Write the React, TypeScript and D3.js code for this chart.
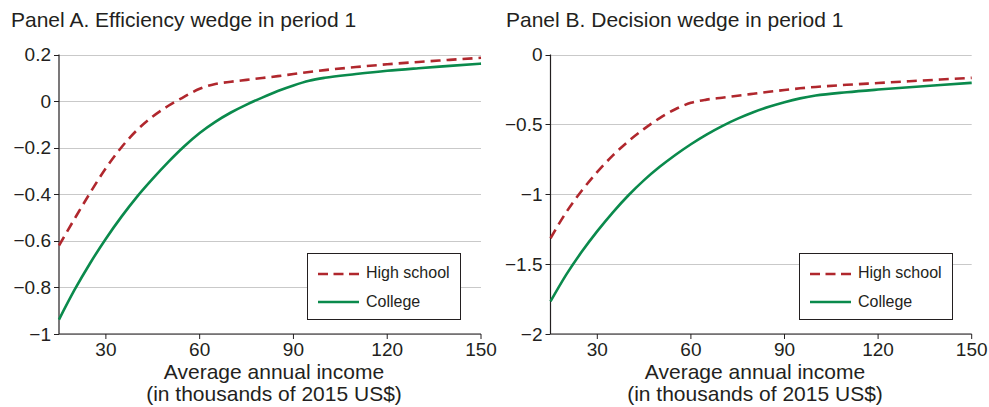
import React from "react";
import * as d3 from "d3";

const incomes = [15, 20, 25, 30, 35, 40, 45, 50, 55, 60, 65, 70, 75, 80, 85, 90, 95, 100, 110, 120, 130, 140, 150];

const effHighSchool = [-0.62, -0.505, -0.393, -0.288, -0.198, -0.124, -0.066, -0.02, 0.018, 0.053, 0.073, 0.083, 0.091, 0.099, 0.107, 0.116, 0.125, 0.133, 0.146, 0.158, 0.168, 0.177, 0.186];
const effCollege = [-0.938, -0.81, -0.695, -0.591, -0.496, -0.41, -0.333, -0.261, -0.195, -0.137, -0.089, -0.049, -0.015, 0.015, 0.043, 0.067, 0.087, 0.1, 0.116, 0.13, 0.141, 0.151, 0.161];

const decHighSchool = [-1.315, -1.13, -0.975, -0.84, -0.722, -0.62, -0.532, -0.455, -0.392, -0.346, -0.323, -0.309, -0.295, -0.281, -0.267, -0.254, -0.242, -0.232, -0.217, -0.204, -0.191, -0.179, -0.167];
const decCollege = [-1.767, -1.577, -1.412, -1.264, -1.129, -1.007, -0.899, -0.804, -0.719, -0.642, -0.573, -0.512, -0.459, -0.413, -0.374, -0.341, -0.314, -0.294, -0.27, -0.251, -0.234, -0.218, -0.203];

const xTicks = [30, 60, 90, 120, 150];
const effTicks = [0.2, 0, -0.2, -0.4, -0.6, -0.8, -1];
const decTicks = [0, -0.5, -1, -1.5, -2];

const seriesNames = ["High school", "College"];
const RED = "#b0272d";
const GREEN = "#0a8a4c";
const INK = "#231f20";
const FONT = "'Liberation Sans', Arial, Helvetica, sans-serif";

const fmt = (v: number) => (v < 0 ? "\u2212" + String(Math.abs(v)) : String(v));

type PanelProps = {
  title: string;
  titleX: number;
  x0: number;
  x1: number;
  yDomain: [number, number];
  yTicks: number[];
  hs: number[];
  col: number[];
  axisCenter: number;
  legendX: number;
};

function Panel(p: PanelProps) {
  const x = d3.scaleLinear().domain([15, 150]).range([p.x0, p.x1]);
  const y = d3.scaleLinear().domain(p.yDomain).range([334, 54.5]);
  const line = d3
    .line<number>()
    .x((_, i) => x(incomes[i]))
    .y((d) => y(d))
    .curve(d3.curveMonotoneX);
  const top = y.range()[1];
  const bottom = y.range()[0];
  return (
    <g>
      <text x={p.titleX} y={27} fontSize={21} fill={INK} fontFamily={FONT}>
        {p.title}
      </text>
      {p.yTicks.map((t) => (
        <g key={t}>
          <line x1={p.x0} x2={p.x1} y1={Math.round(y(t)) + 0.5} y2={Math.round(y(t)) + 0.5} stroke="#c9c9c9" strokeWidth={1} />
          <line x1={p.x0 - 5} x2={p.x0} y1={Math.round(y(t)) + 0.5} y2={Math.round(y(t)) + 0.5} stroke={INK} strokeWidth={1} />
          <text x={p.x0 - 8} y={y(t)} dy="0.35em" textAnchor="end" fontSize={19} fill={INK} fontFamily={FONT}>
            {fmt(t)}
          </text>
        </g>
      ))}
      <line x1={p.x0} x2={p.x0} y1={top} y2={bottom} stroke={INK} strokeWidth={1.2} />
      <line x1={p.x0} x2={p.x1} y1={bottom} y2={bottom} stroke={INK} strokeWidth={1.2} />
      {xTicks.map((t) => (
        <g key={t}>
          <line x1={x(t)} x2={x(t)} y1={bottom} y2={bottom + 5} stroke={INK} strokeWidth={1} />
          <text x={x(t)} y={356} textAnchor="middle" fontSize={19} fill={INK} fontFamily={FONT}>
            {t}
          </text>
        </g>
      ))}
      <text x={p.axisCenter} y={379} textAnchor="middle" fontSize={21} fill={INK} fontFamily={FONT}>
        Average annual income
      </text>
      <text x={p.axisCenter} y={400.5} textAnchor="middle" fontSize={21} fill={INK} fontFamily={FONT}>
        (in thousands of 2015 US$)
      </text>
      <path d={line(p.col) || ""} fill="none" stroke={GREEN} strokeWidth={2.6} />
      <path d={line(p.hs) || ""} fill="none" stroke={RED} strokeWidth={2.6} strokeDasharray="10 6" />
      <g transform={`translate(${p.legendX},0)`}>
        <rect x={0.5} y={253.5} width={153} height={66} fill="#fff" stroke={INK} strokeWidth={1} />
        <line x1={11} x2={52} y1={274} y2={274} stroke={RED} strokeWidth={2.6} strokeDasharray="10 5.5" />
        <text x={59} y={277.5} fontSize={16} fill={INK} fontFamily={FONT}>
          {seriesNames[0]}
        </text>
        <line x1={11} x2={52} y1={302} y2={302} stroke={GREEN} strokeWidth={2.6} />
        <text x={59} y={306.5} fontSize={16} fill={INK} fontFamily={FONT}>
          {seriesNames[1]}
        </text>
      </g>
    </g>
  );
}

export default function App() {
  return (
    <svg width={989} height={407} style={{ position: "absolute", left: 0, top: 0, background: "#fff" }}>
      <rect width={989} height={407} fill="#fff" />
      <Panel
        title="Panel A. Efficiency wedge in period 1"
        titleX={11}
        x0={59}
        x1={481}
        yDomain={[-1, 0.2]}
        yTicks={effTicks}
        hs={effHighSchool}
        col={effCollege}
        axisCenter={274}
        legendX={307}
      />
      <Panel
        title="Panel B. Decision wedge in period 1"
        titleX={506}
        x0={550.5}
        x1={971.7}
        yDomain={[-2, 0]}
        yTicks={decTicks}
        hs={decHighSchool}
        col={decCollege}
        axisCenter={755}
        legendX={799}
      />
    </svg>
  );
}
